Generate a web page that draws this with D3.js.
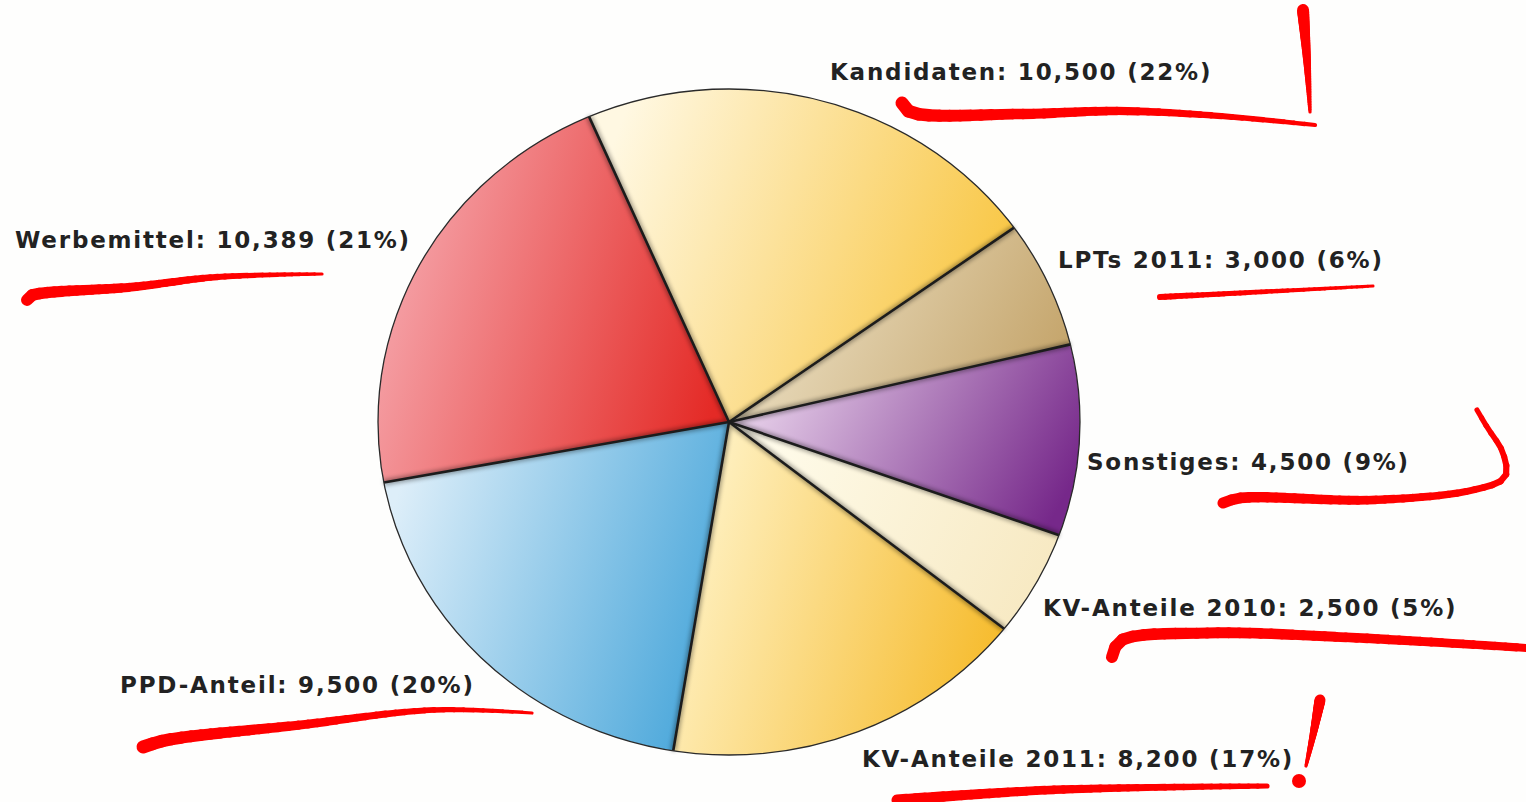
<!DOCTYPE html>
<html>
  <head>
    <meta charset="utf-8">
    <title></title>
    <style>
      body { margin: 0; background: #fefefd; }
      text { font-family: "DejaVu Sans", Verdana, sans-serif; font-weight: bold; fill: #222; }
    </style>
  </head>
  <body>
    <div id="chart"></div>
    <script src="https://d3js.org/d3.v7.min.js" charset="utf-8"></script>
    <script>

      const width = 1526;
      const height = 802;

      // slices, clockwise from the top-left
      const categories = ['Kandidaten', 'LPTs 2011', 'Sonstiges', 'KV-Anteile 2010', 'KV-Anteile 2011', 'PPD-Anteil', 'Werbemittel'];
      const values = [10500, 3000, 4500, 2500, 8200, 9500, 10389];
      const percents = ['22%', '6%', '9%', '5%', '17%', '20%', '21%'];

      // gradient light -> dark, left to right
      const lightColors = ['#fff8e2', '#efe5cc', '#ecd8ee', '#fffcec', '#fff3c8', '#ddeef9', '#f6a8ae'];
      const darkColors  = ['#f8c43c', '#c4a46a', '#76288a', '#f7e9c2', '#f6bb2c', '#48a6da', '#e42a26'];

      // where each label sits (left x, baseline y)
      const labelPos = [[830, 80], [1058, 268], [1087, 470], [1043, 616], [862, 767], [120, 693], [15, 248]];

      const cx = 729, cy = 422, rx = 351, ry = 333;

      const svg = d3.select('#chart')
                    .append('svg')
                    .attr('width', width)
                    .attr('height', height)

      const defs = svg.append('defs')

      categories.forEach((c, i) => {
        const g = defs.append('linearGradient')
          .attr('id', 'grad' + i)
          .attr('x1', 0).attr('y1', 0.35).attr('x2', 1).attr('y2', 0.65)
        g.append('stop').attr('offset', '0%').attr('stop-color', lightColors[i])
        g.append('stop').attr('offset', '100%').attr('stop-color', darkColors[i])
      })

      defs.append('filter').attr('id', 'soft')
        .attr('x', '-20%').attr('y', '-20%').attr('width', '140%').attr('height', '140%')
        .append('feGaussianBlur').attr('stdDeviation', 2.2)

      const pie = d3.pie()
                    .sort(null)
                    .startAngle(-23.5 * Math.PI / 180)
                    .endAngle((360 - 23.5) * Math.PI / 180)

      const arcs = pie(values)

      const arc = d3.arc().innerRadius(0).outerRadius(rx)

      const pieG = svg.append('g')
                      .attr('transform', `translate(${cx},${cy}) scale(1,${ry / rx})`)

      pieG.selectAll('path.slice')
        .data(arcs)
        .enter()
        .append('path')
        .attr('class', 'slice')
        .attr('d', arc)
        .attr('fill', (d, i) => `url(#grad${i})`)

      // soft shadow along the edges
      const shade = pieG.append('g').attr('filter', 'url(#soft)').attr('opacity', 0.35)
      shade.selectAll('line')
        .data(arcs)
        .enter()
        .append('line')
        .attr('x1', 0).attr('y1', 0)
        .attr('x2', d => rx * Math.sin(d.startAngle))
        .attr('y2', d => -rx * Math.cos(d.startAngle))
        .attr('stroke', '#000')
        .attr('stroke-width', 6)
        .attr('vector-effect', 'non-scaling-stroke')

      // radial edges
      pieG.selectAll('line.edge')
        .data(arcs)
        .enter()
        .append('line')
        .attr('class', 'edge')
        .attr('x1', 0).attr('y1', 0)
        .attr('x2', d => rx * Math.sin(d.startAngle))
        .attr('y2', d => -rx * Math.cos(d.startAngle))
        .attr('stroke', '#1c1c1c')
        .attr('stroke-width', 2.6)
        .attr('vector-effect', 'non-scaling-stroke')

      pieG.append('circle')
        .attr('r', rx)
        .attr('fill', 'none')
        .attr('stroke', '#2a2a2a')
        .attr('stroke-width', 1.3)
        .attr('vector-effect', 'non-scaling-stroke')

      const fmt = d3.format(',')

      svg.selectAll('text.label')
        .data(categories)
        .enter()
        .append('text')
        .attr('class', 'label')
        .attr('x', (d, i) => labelPos[i][0])
        .attr('y', (d, i) => labelPos[i][1])
        .attr('font-size', 23)
        .attr('letter-spacing', 1.8)
        .text((d, i) => `${d}: ${fmt(values[i])} (${percents[i]})`)

      // red hand-drawn marks: centre line points, start width, end width
      const strokes = [
        [[[902, 103], [910, 112], [1020, 114], [1120, 111], [1220, 116], [1315, 125]], 13, 4],
        [[[1303, 10], [1307, 60], [1310, 112]], 12, 3],
        [[[27, 300], [30, 296], [133, 287], [217, 277], [322, 274]], 12, 3],
        [[[1160, 297], [1240, 293], [1373, 286]], 6, 3],
        [[[1223, 503], [1240, 498], [1373, 500], [1473, 490], [1505, 477], [1503, 453], [1487, 427], [1477, 410]], 11, 5],
        [[[1112, 657], [1120, 641], [1207, 633], [1340, 637], [1527, 648]], 12, 8],
        [[[143, 747], [167, 740], [300, 725], [433, 710], [532, 713]], 13, 3],
        [[[897, 800], [1050, 790], [1267, 786]], 11, 5],
        [[[1320, 700], [1313, 735], [1306, 766]], 11, 3]
      ]

      const marks = svg.append('g').attr('fill', 'none').attr('stroke', '#ff0000').attr('stroke-linecap', 'round')
      const line = d3.line().curve(d3.curveCatmullRom)

      strokes.forEach(s => {
        const tmp = marks.append('path').attr('d', line(s[0]))
        const len = tmp.node().getTotalLength()
        tmp.remove()
        const n = 40
        for (let k = 0; k < n; k++) {
          const a = tmp.node().getPointAtLength(len * k / n)
          const b = tmp.node().getPointAtLength(len * (k + 1) / n)
          marks.append('line')
            .attr('x1', a.x).attr('y1', a.y).attr('x2', b.x).attr('y2', b.y)
            .attr('stroke-width', s[1] + (s[2] - s[1]) * k / n)
        }
      })

      // dot of the lower exclamation mark
      svg.append('circle').attr('cx', 1299).attr('cy', 781).attr('r', 7).attr('fill', '#ff0000')

    </script>
  </body>
</html>
